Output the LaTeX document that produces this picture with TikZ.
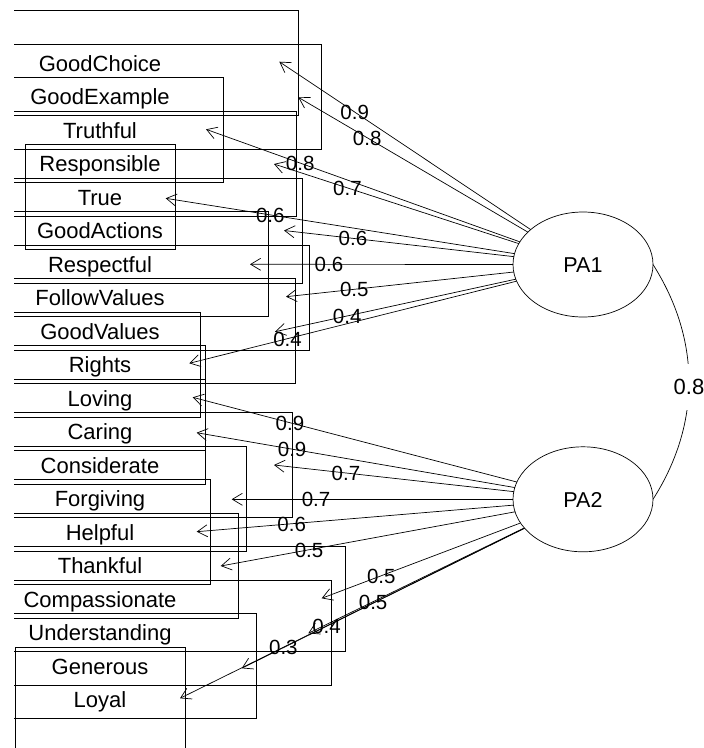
\documentclass[tikz,border=0pt]{standalone}
\usepackage{fontspec}
\setmainfont{Liberation Sans}
\usetikzlibrary{arrows.meta,shapes.geometric}
\begin{document}
\begin{tikzpicture}[x=1pt,y=-1pt,
  varbox/.style={draw, line width=0.9pt, rectangle, inner sep=0pt, outer sep=0pt,
    minimum height=105pt, font=\fontsize{22}{26}\selectfont, text height=15.8pt, text depth=0pt},
  fac/.style={draw, ellipse, line width=0.7pt, minimum width=140pt, minimum height=105pt,
    inner sep=0pt, outer sep=0pt, font=\fontsize{21.5}{26}\selectfont, text height=15.4pt, text depth=0pt},
  arr/.style={-{Straight Barb[length=10pt,width=12pt]}, line width=0.7pt},
  lab/.style={font=\fontsize{20.5}{24}\selectfont, inner sep=0pt, text height=14.7pt, text depth=0pt},
  corr/.style={font=\fontsize{22}{26}\selectfont, fill=white, inner sep=1pt, minimum height=46pt, text height=15.8pt, text depth=0pt}]
\useasboundingbox (0,0) rectangle (704,748);
\begin{scope}
\clip (14,0) rectangle (704,748);
\node[varbox, minimum width=396pt] (GoodChoice) at (100,63.3) {GoodChoice};
\node[varbox, minimum width=442pt] (GoodExample) at (100,96.8) {GoodExample};
\node[varbox, minimum width=246pt] (Truthful) at (100,130.3) {Truthful};
\node[varbox, minimum width=392pt] (Responsible) at (100,163.8) {Responsible};
\node[varbox, minimum width=150pt] (True) at (100,197.3) {True};
\node[varbox, minimum width=404pt] (GoodActions) at (100,230.8) {GoodActions};
\node[varbox, minimum width=336pt] (Respectful) at (100,264.3) {Respectful};
\node[varbox, minimum width=418pt] (FollowValues) at (100,297.8) {FollowValues};
\node[varbox, minimum width=390pt] (GoodValues) at (100,331.3) {GoodValues};
\node[varbox, minimum width=201.4pt] (Rights) at (100,364.8) {Rights};
\node[varbox, minimum width=210pt] (Loving) at (100,398.3) {Loving};
\node[varbox, minimum width=211pt] (Caring) at (100,431.8) {Caring};
\node[varbox, minimum width=384pt] (Considerate) at (100,465.3) {Considerate};
\node[varbox, minimum width=293.4pt] (Forgiving) at (100,498.8) {Forgiving};
\node[varbox, minimum width=221.4pt] (Helpful) at (100,532.3) {Helpful};
\node[varbox, minimum width=277pt] (Thankful) at (100,565.8) {Thankful};
\node[varbox, minimum width=490pt] (Compassionate) at (100,599.3) {Compassionate};
\node[varbox, minimum width=463.4pt] (Understanding) at (100,632.8) {Understanding};
\node[varbox, minimum width=313.4pt] (Generous) at (100,666.3) {Generous};
\node[varbox, minimum width=170pt] (Loyal) at (100,699.8) {Loyal};
\end{scope}

\node[fac] (PA1) at (583,264.5) {PA1};
\node[fac] (PA2) at (583,499.3) {PA2};

\coordinate (t1) at (279.3,61.7);
\coordinate (t2) at (298.3,97.3);
\coordinate (t3) at (206,129.3);
\coordinate (t4) at (274,164);
\coordinate (t5) at (165.7,198.3);
\coordinate (t6) at (284,230.5);
\coordinate (t7) at (250,264.3);
\coordinate (t8) at (286,296.7);
\coordinate (t9) at (275,331.7);
\coordinate (t10) at (189.3,363.3);
\coordinate (t11) at (192.7,397.3);
\coordinate (t12) at (196.7,432.7);
\coordinate (t13) at (274,465);
\coordinate (t14) at (231.7,499.3);
\coordinate (t15) at (196.7,531.7);
\coordinate (t16) at (220.7,566);
\coordinate (t17) at (321.7,598.3);
\coordinate (t18) at (308.3,633.3);
\coordinate (t19) at (241.7,668.3);
\coordinate (t20) at (180,698.3);

\draw[arr] (PA1) -- (t1) node[lab, pos=0.7] {0.9};
\draw[arr] (PA1) -- (t2) node[lab, pos=0.7] {0.8};
\draw[arr] (PA1) -- (t3) node[lab, pos=0.7] {0.8};
\draw[arr] (PA1) -- (t4) node[lab, pos=0.7] {0.7};
\draw[arr] (PA1) -- (t5) node[lab, pos=0.7] {0.6};
\draw[arr] (PA1) -- (t6) node[lab, pos=0.7] {0.6};
\draw[arr] (PA1) -- (t7) node[lab, pos=0.7] {0.6};
\draw[arr] (PA1) -- (t8) node[lab, pos=0.7] {0.5};
\draw[arr] (PA1) -- (t9) node[lab, pos=0.7] {0.4};
\draw[arr] (PA1) -- (t10) node[lab, pos=0.7] {0.4};

\draw[arr] (PA2) -- (t11) node[lab, pos=0.7] {0.9};
\draw[arr] (PA2) -- (t12) node[lab, pos=0.7] {0.9};
\draw[arr] (PA2) -- (t13) node[lab, pos=0.7] {0.7};
\draw[arr] (PA2) -- (t14) node[lab, pos=0.7] {0.7};
\draw[arr] (PA2) -- (t15) node[lab, pos=0.7] {0.6};
\draw[arr] (PA2) -- (t16) node[lab, pos=0.7] {0.5};
\draw[arr] (PA2) -- (t17) node[lab, pos=0.7] {0.5};
\draw[arr] (PA2) -- (t18) node[lab, pos=0.7] {0.5};
\draw[arr] (PA2) -- (t19) node[lab, pos=0.7] {0.4};
\draw[arr] (PA2) -- (t20) node[lab, pos=0.7] {0.3};

\draw[line width=0.7pt] (PA1.east) .. controls (701,340) and (701,424) .. (PA2.east)
  node[corr, pos=0.52] (r12) {0.8};
\end{tikzpicture}
\end{document}
